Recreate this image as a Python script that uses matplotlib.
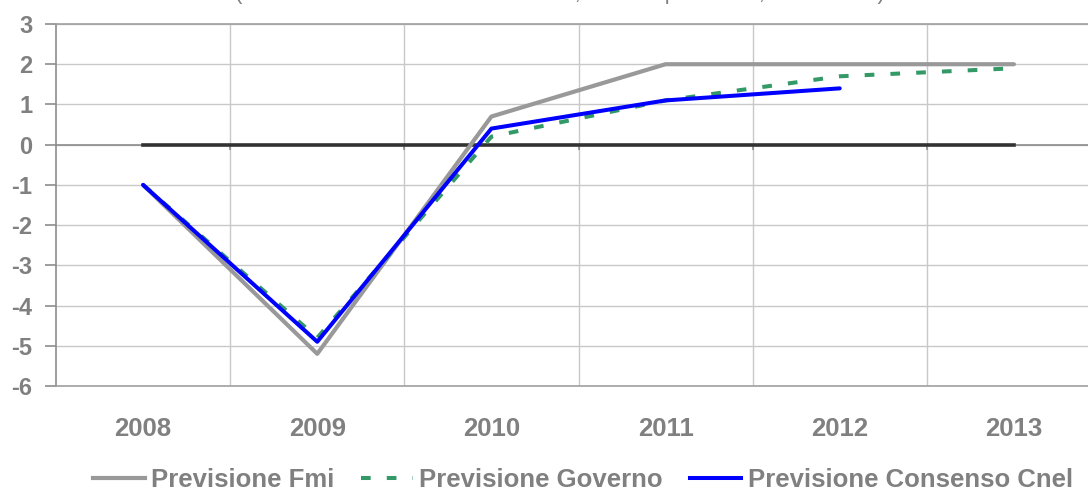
import numpy as np
import matplotlib
matplotlib.use("Agg")
import matplotlib.pyplot as plt
from matplotlib.lines import Line2D

plt.rcParams["font.family"] = ["Liberation Sans", "DejaVu Sans"]
plt.rcParams["axes.unicode_minus"] = False

years = ["2008", "2009", "2010", "2011", "2012", "2013"]
fmi = [-1.0, -5.2, 0.7, 2.0, 2.0, 2.0]
governo = [-1.0, -4.8, 0.2, 1.1, 1.7, 1.9]
cnel = [-1.0, -4.9, 0.4, 1.1, 1.4]
zero = [0, 0, 0, 0, 0, 0]
yticks = list(range(-6, 4))

GRAY_TXT = "#808080"
C_FMI, C_GOV, C_CNEL = "#999999", "#339966", "#0000ff"

W, H = 1088, 492
fig = plt.figure(figsize=(W / 100, H / 100), dpi=100)
ax = fig.add_axes([56 / W, (H - 386) / H, 1045 / W, 362 / H])

x = np.arange(len(years))
ax.set_xlim(-0.5, len(years) - 0.5)
ax.set_ylim(-6, 3)

# grid
ax.set_yticks(yticks)
ax.set_xticks(x)
ax.set_xticks(x[:-1] + 0.5, minor=True)
ax.grid(axis="y", which="major", color="#c8c8c8", lw=1)
ax.grid(axis="x", which="minor", color="#c8c8c8", lw=1)
ax.set_axisbelow(True)

# category axis crossing at 0 (gray) with small ticks at category boundaries
ax.axhline(0, color="#8c8c8c", lw=1.2, zorder=1)
ax.vlines(x[:-1] + 0.5, -0.14, 0, color="#8c8c8c", lw=1.2, zorder=1)

ax.plot(x, zero, color="#333333", lw=2.6, zorder=2)
ax.plot(x, fmi, color=C_FMI, lw=3.0, zorder=3, solid_capstyle="round")
ax.plot(x, governo, color=C_GOV, lw=2.9, dashes=(2.4, 4.0), zorder=4)
ax.plot(x[:len(cnel)], cnel, color=C_CNEL, lw=2.9, zorder=5, solid_capstyle="round")

for s in ["top", "bottom"]:
    ax.spines[s].set_color("#a0a0a0")
    ax.spines[s].set_linewidth(1.2)
ax.spines["right"].set_visible(False)
ax.spines["left"].set_color("#8c8c8c")
ax.spines["left"].set_linewidth(1.2)

ax.set_xticklabels(years)
ax.tick_params(axis="x", which="both", length=0, pad=22, labelsize=18.5,
               labelcolor=GRAY_TXT)
ax.tick_params(axis="y", length=8, width=1.2, color="#8c8c8c", pad=9,
               labelsize=17, labelcolor=GRAY_TXT)
for lab in ax.get_xticklabels() + ax.get_yticklabels():
    lab.set_fontweight("bold")

# subtitle, mostly cut off at the top of the picture
fig.text(560 / W, 1 + 1 / H,
         "(variazioni % annue del Pil italiano, stime e previsioni, 2008-2013)",
         ha="center", va="baseline", fontsize=16, color=GRAY_TXT)

handles = [
    Line2D([], [], color=C_FMI, lw=3.0),
    Line2D([], [], color=C_GOV, lw=2.9, dashes=(2.4, 4.0)),
    Line2D([], [], color=C_CNEL, lw=2.9),
]
labels = ["Previsione Fmi", "Previsione Governo", "Previsione Consenso Cnel"]
leg = fig.legend(handles, labels, ncol=3, loc="center",
                 bbox_to_anchor=(583 / W, 1 - 480 / H), frameon=False,
                 handlelength=2.0, handletextpad=0.25, columnspacing=1.05,
                 prop={"size": 18.5, "weight": "bold"}, borderpad=0)
for t in leg.get_texts():
    t.set_color(GRAY_TXT)

fig.savefig("out.png", dpi=100)
